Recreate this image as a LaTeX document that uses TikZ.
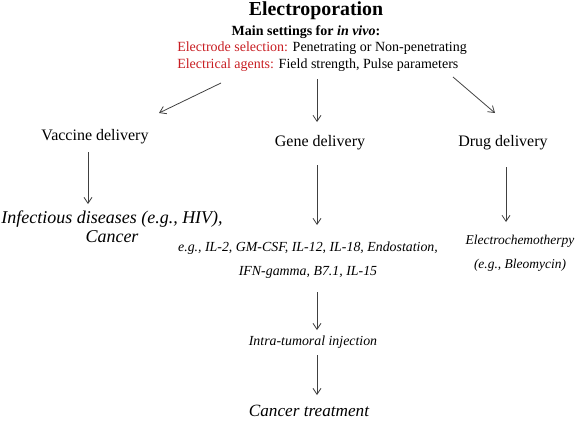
\documentclass[tikz,border=0pt]{standalone}
\usepackage{fontspec}
\setmainfont{Liberation Serif}
\usetikzlibrary{arrows.meta,calc}

\definecolor{elred}{RGB}{200,30,35}

\begin{document}
\begin{tikzpicture}[x=0.75pt, y=-0.75pt,
  arr/.style={-{Straight Barb[length=4.5pt,width=6pt]}, black!75, line width=0.6pt},
  set/.style={inner sep=0pt, font=\fontsize{10.5}{12}\selectfont},
  route/.style={inner sep=0pt, font=\fontsize{12}{14}\selectfont},
  item/.style={inner sep=0pt, font=\fontsize{10.4}{18}\selectfont\itshape},
  bigitem/.style={inner sep=0pt, font=\fontsize{12.9}{14.25}\selectfont\itshape}]

\useasboundingbox (0,0) rectangle (586,425);

% ── Header ──
\node[inner sep=0pt, font=\fontsize{14.9}{17}\selectfont\bfseries] (title) at (316,11) {Electroporation};
\node[set, font=\fontsize{10.5}{12}\selectfont\bfseries] (main) at (306,32) {Main settings for \textit{in vivo}:};
\node[set, anchor=west] (sel) at (177,48) {\textcolor{elred}{Electrode selection:} Penetrating or Non-penetrating};
\node[set, anchor=west] (agt) at (177,65) {\textcolor{elred}{Electrical agents:} Field strength, Pulse parameters};

% ── Delivery routes ──
\node[route] (vac)  at (95,137)  {Vaccine delivery};
\node[route] (gene) at (320,143) {Gene delivery};
\node[route] (drug) at (503,143) {Drug delivery};

% ── Applications ──
\node[bigitem, font=\fontsize{13.5}{14.25}\selectfont\itshape, align=center] (inf) at (112,227) {Infectious diseases (e.g., HIV),\\Cancer};
\node[item, align=center] (genes) at (308,260) {e.g., IL-2, GM-CSF, IL-12, IL-18, Endostation,\\IFN-gamma, B7.1, IL-15};
\node[item, font=\fontsize{10.1}{18}\selectfont\itshape, align=center] (echem) at (520,253) {Electrochemotherpy\\(e.g., Bleomycin)};
\node[item] (intra) at (313,342) {Intra-tumoral injection};
\node[bigitem] (treat) at (309,411) {Cancer treatment};

% ── Connectors ──
\draw[arr] ($(agt.west)+(44,18)$)  -- ($(vac)+(64,-24)$);
\draw[arr] ($(agt.west)+(140,14)$) -- ($(gene)+(-3,-21)$);
\draw[arr] ($(agt.west)+(276,12)$) -- ($(drug)+(-8,-30)$);

\draw[arr] ($(vac)+(-7,15)$)  -- ($(inf)+(-24,-23)$);
\draw[arr] ($(gene)+(-3,22)$) -- ($(genes)+(9,-35)$);
\draw[arr] ($(drug)+(3,24)$)  -- ($(echem)+(-14,-31)$);
\draw[arr] ($(genes)+(9,32)$) -- ($(intra)+(4,-12)$);
\draw[arr] ($(intra)+(4,13)$) -- ($(treat)+(8,-16)$);

\end{tikzpicture}
\end{document}
